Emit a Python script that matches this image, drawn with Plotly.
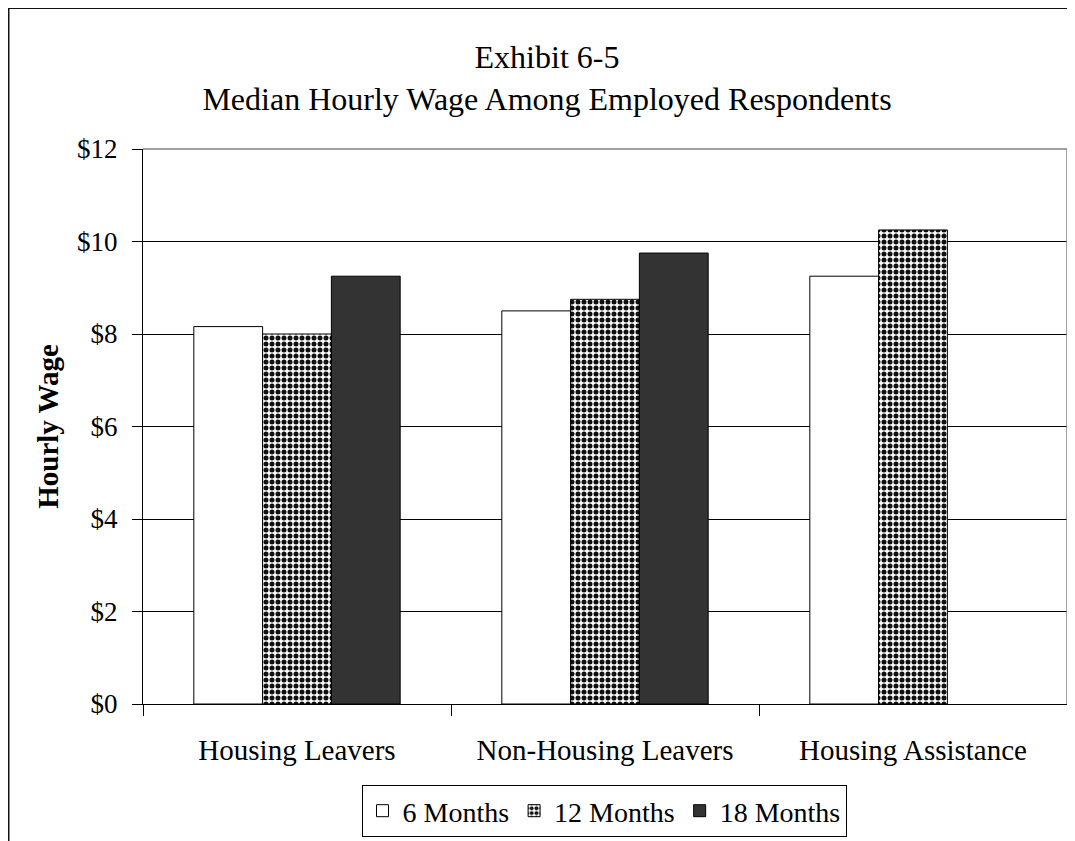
import plotly.graph_objects as go

categories = ["Housing Leavers", "Non-Housing Leavers", "Housing Assistance"]
series_names = ["6 Months", "12 Months", "18 Months"]
wage_6 = [8.16, 8.50, 9.25]
wage_12 = [8.00, 8.75, 10.25]
wage_18 = [9.25, 9.75, None]
y_ticks = [0, 2, 4, 6, 8, 10, 12]
y_tick_labels = ["$0", "$2", "$4", "$6", "$8", "$10", "$12"]

W, H = 1075, 841
# figure pixel coordinates (page body adds an 8px offset)
L, T = 135, 141
PLOT_RIGHT, PLOT_BOTTOM = 1059, 696
R, B = W - PLOT_RIGHT, H - PLOT_BOTTOM
PW, PH = W - L - R, H - T - B

FONT = "Liberation Serif, Times New Roman, serif"

fig = go.Figure()
fig.add_trace(go.Bar(
    name=series_names[0], x=categories, y=wage_6,
    marker=dict(color="white", line=dict(color="#000", width=1)),
))
fig.add_trace(go.Bar(
    name=series_names[1], x=categories, y=wage_12,
    marker=dict(color="white", line=dict(color="#000", width=1),
                pattern=dict(shape=".", size=6, solidity=0.55,
                             fgcolor="#111", fgopacity=1, bgcolor="white",
                             fillmode="overlay")),
))
fig.add_trace(go.Bar(
    name=series_names[2], x=categories, y=wage_18,
    marker=dict(color="#333333", line=dict(color="#000", width=1)),
))

def px_to_paper_x(px):
    return (px - L) / PW

def px_to_paper_y(py):
    return (H - B - py) / PH

shapes = [
    dict(type="line", xref="paper", yref="paper", x0=0, x1=1, y0=1, y1=1,
         line=dict(color="#808080", width=1.5)),
    dict(type="line", xref="paper", yref="paper", x0=1, x1=1, y0=0, y1=1,
         line=dict(color="#808080", width=1.5)),
    dict(type="line", xref="paper", yref="paper",
         x0=px_to_paper_x(0.5), x1=px_to_paper_x(0.5),
         y0=px_to_paper_y(900), y1=px_to_paper_y(-1),
         line=dict(color="#111", width=2)),
    dict(type="line", xref="paper", yref="paper",
         x0=px_to_paper_x(-1), x1=px_to_paper_x(1100),
         y0=px_to_paper_y(0), y1=px_to_paper_y(0),
         line=dict(color="#111", width=2)),
]

fig.update_layout(
    width=W, height=H,
    margin=dict(l=L, r=R, t=T, b=B, autoexpand=False),
    paper_bgcolor="white", plot_bgcolor="white",
    barmode="group", bargap=0.33, bargroupgap=0,
    font=dict(family=FONT, color="#000", size=27),
    title=dict(text="Exhibit 6-5<br>Median Hourly Wage Among Employed Respondents",
               x=px_to_paper_x(539), xref="paper", xanchor="center",
               y=1 - 60 / H, yref="container", yanchor="top",
               font=dict(family=FONT, size=32, color="#000")),
    showlegend=True,
    legend=dict(orientation="h", x=px_to_paper_x(596), xanchor="center",
                y=px_to_paper_y(777), yanchor="top",
                bordercolor="#000", borderwidth=1,
                font=dict(family=FONT, size=28, color="#000"),
                traceorder="normal"),
    shapes=shapes,
    xaxis=dict(showline=True, linecolor="#000", linewidth=1,
               ticks="outside", ticklen=11, tickcolor="#000", tickwidth=1,
               tickson="boundaries", showgrid=False, automargin=False,
               tickfont=dict(family=FONT, size=29, color="#000"),
               ticklabelstandoff=20),
    yaxis=dict(range=[0, 12], tickmode="array", tickvals=y_ticks,
               ticktext=y_tick_labels, automargin=False,
               showline=True, linecolor="#000", linewidth=1,
               ticks="outside", ticklen=10, tickcolor="#000", tickwidth=1,
               showgrid=True, gridcolor="#000", gridwidth=1, zeroline=False,
               tickfont=dict(family=FONT, size=27, color="#000"),
               ticklabelstandoff=9,
               title=dict(text="<b>Hourly Wage</b>", standoff=9,
                          font=dict(family=FONT, size=29, color="#000"))),
)

fig.write_html("out.html")
